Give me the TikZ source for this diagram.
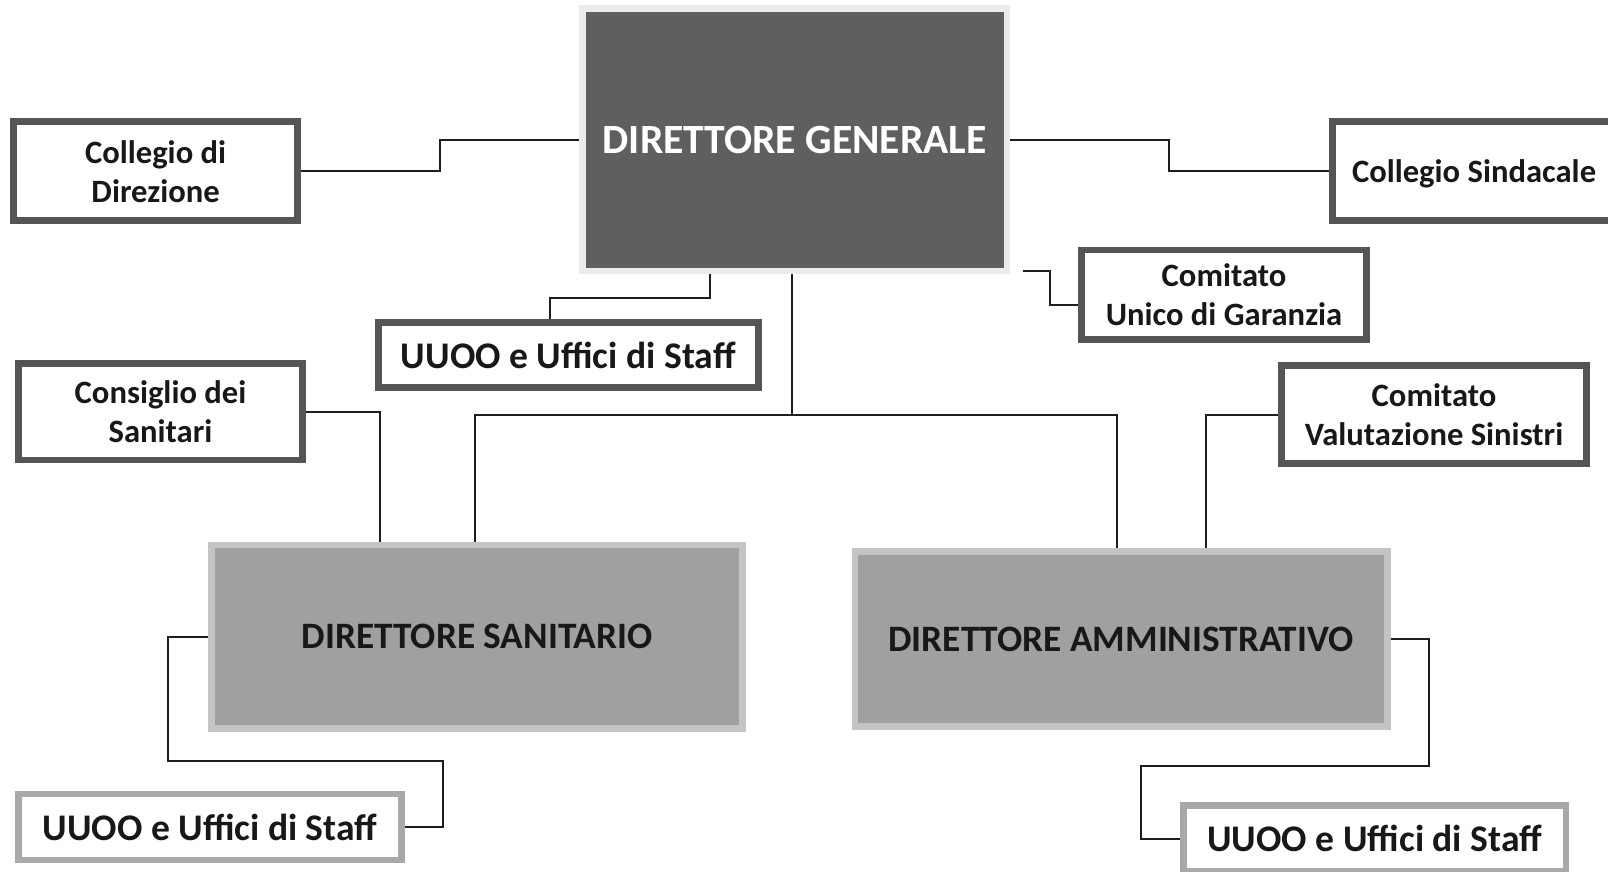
\documentclass[tikz,border=0pt]{standalone}
\usepackage{fontspec}
\setmainfont{Carlito}
\usetikzlibrary{backgrounds}

\definecolor{dgfill}{HTML}{5F5F5F}
\definecolor{dgrim}{HTML}{EBEBEB}
\definecolor{dirfill}{HTML}{A0A0A0}
\definecolor{dirrim}{HTML}{C4C4C4}
\definecolor{darkrim}{HTML}{555555}
\definecolor{lightrim}{HTML}{A9A9A9}
\definecolor{ink}{HTML}{181818}
\definecolor{wirecol}{HTML}{1E1E1E}

\tikzset{
  every node/.style={inner sep=0pt, align=center, text=ink},
  rim/.style={line width=6.7pt},
  smallbox/.style={rim, draw=darkrim, fill=white,
    font=\fontsize{32.6}{39}\selectfont\bfseries},
  staffbox/.style={rim, fill=white,
    font=\fontsize{37.6}{44}\selectfont\bfseries},
  dirbox/.style={rim, draw=dirrim, fill=dirfill,
    font=\fontsize{37.3}{44}\selectfont\bfseries},
  topbox/.style={rim, draw=dgrim, fill=dgfill, text=white,
    font=\fontsize{41.6}{48}\selectfont\bfseries},
  wire/.style={draw=wirecol, line width=2pt}
}

\begin{document}
\begin{tikzpicture}[x=1pt, y=-1pt]
\useasboundingbox (0,0) rectangle (1608,871);
\clip (0,0) rectangle (1608,871);

% top management
\node[topbox, minimum width=424.3, minimum height=262.6] (dg) at (794.7,139.7) {DIRETTORE GENERALE};

% boards and committees
\node[smallbox, minimum width=284.3, minimum height=99] (cd) at (155.6,171.2) {Collegio di\\Direzione};
\node[smallbox, text depth=0pt, minimum width=283.3, minimum height=99] (cs) at (1474,171.2) {Collegio Sindacale};
\node[smallbox, minimum width=284.5, minimum height=89.3] (cug) at (1224,294.7) {Comitato\\Unico di Garanzia};
\node[smallbox, minimum width=284.3, minimum height=96.3] (cons) at (160.5,411.7) {Consiglio dei\\Sanitari};
\node[smallbox, minimum width=304.6, minimum height=98.3] (cvs) at (1434,414.5) {Comitato\\Valutazione Sinistri};

% staff units
\node[staffbox, draw=darkrim, minimum width=380, minimum height=64.7] (u1) at (568.3,355) {UUOO e Uffici di Staff};
\node[staffbox, draw=lightrim, minimum width=383.3, minimum height=66] (u2) at (210,827) {UUOO e Uffici di Staff};
\node[staffbox, draw=lightrim, minimum width=382.3, minimum height=66] (u3) at (1374.7,838.7) {UUOO e Uffici di Staff};

% directors
\node[dirbox, minimum width=531.6, minimum height=183.3] (ds) at (477,636.7) {DIRETTORE SANITARIO};
\node[dirbox, minimum width=532.5, minimum height=175.3] (da) at (1121.1,639) {DIRETTORE AMMINISTRATIVO};

\coordinate (cugtap) at (1022.7,271);

\begin{pgfonlayer}{background}
\fill[white] (0,0) rectangle (1608,871);
% connectors
\draw[wire] (cd.east) -- (440,0 |- cd.east) -- (440,0 |- dg.west) -- (dg.west);
\draw[wire] (dg.east) -- (1168.6,0 |- dg.east) -- (1168.6,0 |- cs.west) -- (cs.west);
\draw[wire] (cugtap) -| (1050,305) -- (cug.west |- 0,305);
\draw[wire] (710,0 |- dg.south) |- (550,298) -- (550,0 |- u1.north);
\draw[wire] (792,0 |- dg.south) -- (792,415);
\draw[wire] (475,0 |- ds.north) |- (1117,415) -- (1117,0 |- da.north);
\draw[wire] (cons.east) -| (380,0 |- ds.north);
\draw[wire] (cvs.west) -| (1206,0 |- da.north);
\draw[wire] (ds.west) -| (168,761) -| (443,0 |- u2.east) -- (u2.east);
\draw[wire] (da.east) -| (1429,766) -| (1141,0 |- u3.west) -- (u3.west);
\end{pgfonlayer}
\end{tikzpicture}
\end{document}
